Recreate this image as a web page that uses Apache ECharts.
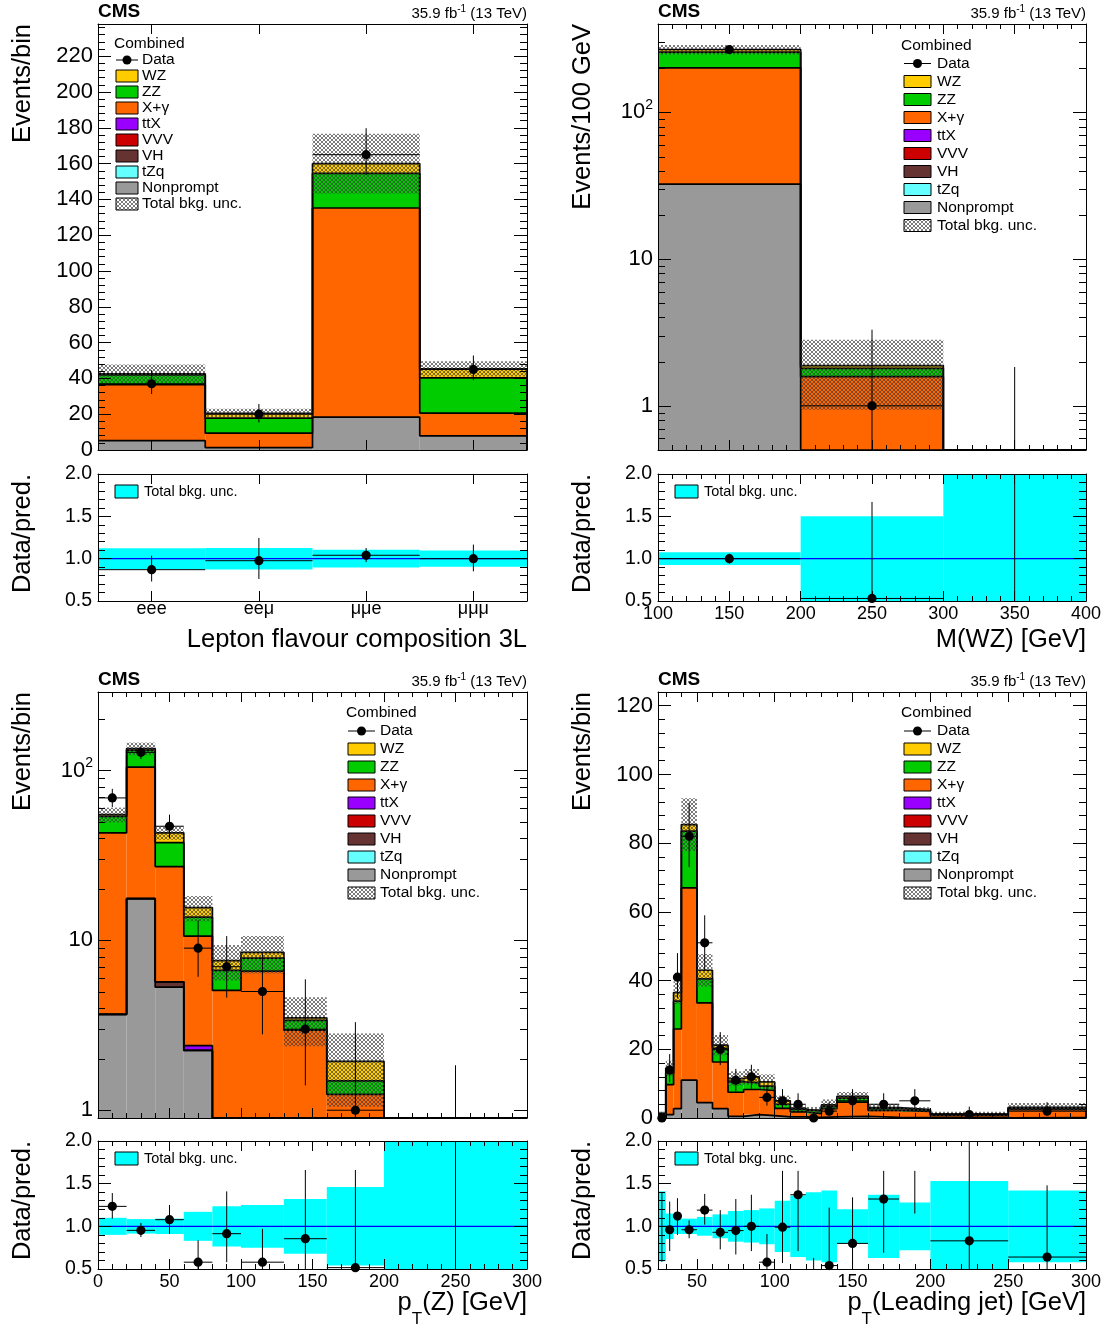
<!DOCTYPE html>
<html>
<head>
<meta charset="utf-8">
<script src="https://cdn.jsdelivr.net/npm/echarts@6/dist/echarts.min.js"></script>
<style>
html, body { margin: 0; padding: 0; background: #fff; }
#main { width: 1107px; height: 1329px; }
</style>
</head>
<body>
<div id="main"></div>
<script>
// ---------------- data ----------------
// Lepton flavour composition
var flavLabels = ['eee', 'eeμ', 'μμe', 'μμμ'];
var flavEdges = [0, 1, 2, 3, 4];
var flavNonprompt = [5.2, 1.3, 18.4, 7.9];
var flavXgamma = [31.3, 8.1, 116.8, 12.7];
var flavZZ = [5.5, 8.4, 19.3, 19.7];
var flavWZ = [0.5, 2.7, 5.5, 5.0];
var flavData = [37, 20, 165, 45];
var flavDataLo = [31.3, 15.4, 153.6, 39];
var flavDataHi = [44.6, 25.7, 179.8, 52.8];
var flavUnc = [0.124, 0.127, 0.104, 0.095];
var flavRatio = [0.87, 0.976, 1.04, 1.0];
var flavRatioLo = [0.73, 0.76, 0.96, 0.85];
var flavRatioHi = [1.035, 1.245, 1.126, 1.166];

// M(WZ)
var mwzEdges = [100, 200, 300, 400];
var mwzNonprompt = [32.4, 0, 0];
var mwzXgamma = [168.6, 1.58, 0];
var mwzZZ = [56, 0.22, 0];
var mwzWZ = [11, 0.08, 0];
var mwzData = [268, 1, 0];
var mwzDataLo = [252, 0.17, 0];
var mwzDataHi = [285, 3.3, 1.84];
var mwzUnc = [0.075, 0.5, 3];
var mwzRatio = [1.0, 0.53, null];
var mwzRatioLo = [0.94, 0.09, 0];
var mwzRatioHi = [1.06, 1.67, 10];

// pT(Z)
var ptzEdges = [0, 20, 40, 60, 80, 100, 130, 160, 200, 300];
var ptzNonprompt = [3.67, 17.6, 5.3, 2.25, 0, 0, 0, 0, 0];
var ptzVH = [0, 0, 0.4, 0, 0, 0, 0, 0, 0];
var ptzTtX = [0, 0, 0, 0.15, 0, 0, 0, 0, 0];
var ptzXgamma = [39.3, 87, 21.5, 8.2, 5.08, 6.6, 2.96, 1.24, 0];
var ptzZZ = [10.7, 27.4, 10.4, 3.1, 1.58, 1.27, 0.42, 0.25, 0];
var ptzWZ = [1.3, 2.6, 5.4, 1.9, 0.94, 0.63, 0.12, 0.45, 0];
var ptzData = [69, 128, 47, 9, 7, 5, 3, 1, 0];
var ptzDataLo = [61, 117, 40, 6.1, 4.6, 2.8, 1.4, 0.17, 0];
var ptzDataHi = [78, 140, 55, 13.1, 10.6, 8.4, 5.9, 3.3, 1.84];
var ptzUnc = [0.10, 0.085, 0.09, 0.17, 0.235, 0.25, 0.32, 0.46, 3];
var ptzRatio = [1.234, 0.953, 1.078, 0.58, 0.914, 0.58, 0.855, 0.516, null];
var ptzRatioLo = [1.09, 0.875, 0.91, 0.3, 0.58, 0.3, 0.3, 0.3, 0];
var ptzRatioHi = [1.39, 1.04, 1.25, 0.836, 1.41, 0.97, 1.66, 1.66, 10];

// pT(leading jet)
var jetEdges = [25, 30, 35, 40, 50, 60, 70, 80, 90, 100, 110, 120, 130, 140, 160, 180, 200, 250, 300];
var jetNonprompt = [0.3, 1.0, 2.7, 11, 4.5, 2.7, 0.5, 1.0, 0.7, 0.3, 0.3, 0.2, 0.3, 0.5, 0.2, 0.1, 0.05, 0.1];
var jetXgamma = [0.7, 8.7, 23.2, 56, 29, 13.6, 7.0, 7.3, 7.3, 2.5, 1.5, 1.1, 2.4, 4.1, 2.0, 1.8, 0.65, 2.4];
var jetZZ = [0.3, 3.3, 8.1, 16.5, 7, 4, 3.0, 2.0, 1.3, 1.2, 0.7, 0.7, 0.7, 1.2, 0.5, 0.4, 0.3, 0.4];
var jetWZ = [0, 1.5, 2.5, 1.9, 2.5, 0.9, 1.0, 1.7, 1.2, 1.0, 0.4, 0.3, 0.4, 0.5, 0.3, 0.15, 0.2, 0.2];
var jetData = [0, 14, 41, 82, 51, 20, 11, 12, 6, 5, 4, 0, 2, 5, 4, 5, 1, 2];
var jetDataLo = [0, 10.4, 35, 73, 43, 15.4, 7.7, 8.5, 3.6, 2.8, 2.1, 0, 0.7, 2.8, 2.1, 2.8, 0.17, 0.7];
var jetDataHi = [1.84, 18.6, 48, 91.7, 59, 25, 14.3, 15.5, 9.6, 8.4, 7.2, 1.84, 4.6, 8.4, 7.2, 8.4, 3.3, 4.6];
var jetUnc = [0.41, 0.15, 0.09, 0.09, 0.11, 0.14, 0.18, 0.19, 0.21, 0.3, 0.36, 0.4, 0.42, 0.2, 0.37, 0.28, 0.53, 0.42];
var jetRatio = [null, 0.96, 1.12, 0.96, 1.19, 0.93, 0.95, 1.0, 0.58, 0.99, 1.37, null, 0.54, 0.80, 1.32, null, 0.83, 0.64];
var jetRatioLo = [0.585, 0.71, 0.9, 0.86, 1.02, 0.73, 0.67, 0.71, 0.3, 0.57, 0.71, 0, 0.3, 0.3, 0.69, 1.15, 0.3, 0.3];
var jetRatioHi = [1.40, 1.29, 1.33, 1.07, 1.38, 1.19, 1.32, 1.37, 0.91, 1.65, 1.65, 0.63, 1.22, 1.34, 1.65, 1.65, 2.5, 1.48];

// legend entries (top to bottom)
var procNames = ['WZ', 'ZZ', 'X+γ', 'ttX', 'VVV', 'VH', 'tZq', 'Nonprompt'];
var procColors = ['#ffcc00', '#00cc00', '#ff6600', '#9900ff', '#cc0000', '#663333', '#66ffff', '#999999'];
var C = {};
procNames.forEach(function (n, i) { C[n] = procColors[i]; });

// ---------------- helpers ----------------
var FONT = '"Liberation Sans", Arial, Helvetica, sans-serif';
var grids = [], xAxes = [], yAxes = [], series = [], graphics = [];

var hatch = document.createElement('canvas');
hatch.width = 4; hatch.height = 4;
var hc = hatch.getContext('2d');
hc.strokeStyle = 'rgba(60,60,60,0.85)';
hc.lineWidth = 0.8;
hc.beginPath();
hc.moveTo(0, 0); hc.lineTo(4, 4);
hc.moveTo(4, 0); hc.lineTo(0, 4);
hc.stroke();
var hatchFill = { image: hatch, repeat: 'repeat' };

function ticksFrom(a, b, step, skip) {
    var out = [];
    for (var i = 0; ; i++) {
        var v = +(a + i * step).toFixed(6);
        if (v > b + 1e-9) break;
        if (!skip || Math.abs(v / skip - Math.round(v / skip)) > 1e-6) out.push(v);
    }
    return out;
}

function logMinor(lo, hi) {
    var out = [];
    [0.1, 1, 10, 100].forEach(function (d) {
        for (var k = 2; k <= 9; k++) {
            var v = +(k * d).toFixed(6);
            if (v > lo && v < hi) out.push(v);
        }
    });
    return out;
}

function logLabel(v) {
    var l = Math.log10(v), e = Math.round(l);
    if (Math.abs(l - e) > 1e-6) return '';
    if (e === 0) return '1';
    if (e === 1) return '10';
    return '10{sup|' + e + '}';
}

function mkAxis(list, o) {
    var a = {
        type: o.type || 'value', gridIndex: o.grid, min: o.min, max: o.max, position: o.pos, z: 10,
        axisLine: { show: !!o.line, onZero: false, lineStyle: { color: '#000', width: 1 } },
        axisTick: { show: true, inside: true, length: o.len, lineStyle: { color: '#000', width: 1 } },
        minorTick: { show: false },
        splitLine: { show: false },
        axisLabel: { show: false }
    };
    if (o.ticks) a.axisTick.customValues = o.ticks;
    if (o.label) {
        a.axisLabel = Object.assign({ show: true, color: '#000', fontFamily: FONT,
            showMinLabel: true, showMaxLabel: true }, o.label);
        if (o.ticks) a.axisLabel.customValues = o.ticks;
    }
    list.push(a);
    return list.length - 1;
}

function frameX(g, c, withLabels) {
    var base = { grid: g, min: c.xmin, max: c.xmax };
    var idx = mkAxis(xAxes, Object.assign({}, base, { pos: 'bottom', line: true, ticks: c.xMajor, len: 10,
        label: withLabels ? c.xLabel : null }));
    mkAxis(xAxes, Object.assign({}, base, { pos: 'top', line: true, ticks: c.xMajor, len: 10 }));
    if (c.xMinor.length) {
        mkAxis(xAxes, Object.assign({}, base, { pos: 'bottom', ticks: c.xMinor, len: 5 }));
        mkAxis(xAxes, Object.assign({}, base, { pos: 'top', ticks: c.xMinor, len: 5 }));
    }
    return idx;
}

function frameY(g, y) {
    var base = { grid: g, min: y.min, max: y.max, type: y.type };
    var idx = mkAxis(yAxes, Object.assign({}, base, { pos: 'left', line: true, ticks: y.major, len: 13, label: y.label }));
    mkAxis(yAxes, Object.assign({}, base, { pos: 'right', line: true, ticks: y.major, len: 13 }));
    if (y.type !== 'log') {
        mkAxis(yAxes, Object.assign({}, base, { pos: 'left', ticks: y.minor, len: 7 }));
        mkAxis(yAxes, Object.assign({}, base, { pos: 'right', ticks: y.minor, len: 7 }));
    }
    return idx;
}

function clampFn(lo, hi) {
    return function (v) { return Math.min(Math.max(v, lo), hi); };
}

function rectRender(fill, clampY) {
    return function (params, api) {
        var p0 = api.coord([api.value(0), clampY(api.value(3))]);
        var p1 = api.coord([api.value(1), clampY(api.value(2))]);
        return { type: 'rect', shape: { x: p0[0], y: p0[1], width: p1[0] - p0[0], height: p1[1] - p0[1] },
            style: { fill: fill } };
    };
}

function pointRender(ylo, yhi, r) {
    var clampY = clampFn(ylo, yhi);
    return function (params, api) {
        var xc = api.value(0), v = api.value(1), lo = api.value(2), hi = api.value(3);
        var x0 = api.value(4), x1 = api.value(5);
        var kids = [];
        var a = api.coord([xc, clampY(lo)]), b = api.coord([xc, clampY(hi)]);
        kids.push({ type: 'line', shape: { x1: a[0], y1: a[1], x2: b[0], y2: b[1] },
            style: { stroke: '#000', lineWidth: 1 } });
        if (v >= ylo && v <= yhi) {
            var l = api.coord([x0, v]), rr = api.coord([x1, v]), c = api.coord([xc, v]);
            kids.push({ type: 'line', shape: { x1: l[0], y1: l[1], x2: rr[0], y2: rr[1] },
                style: { stroke: '#000', lineWidth: 1 } });
            kids.push({ type: 'circle', shape: { cx: c[0], cy: c[1], r: r }, style: { fill: '#000' } });
        }
        return { type: 'group', children: kids };
    };
}

function dataRows(edges, vals, lo, hi) {
    return vals.map(function (v, i) {
        return [(edges[i] + edges[i + 1]) / 2, v == null ? -1 : v, lo[i], hi[i], edges[i], edges[i + 1]];
    });
}

var ratioY = {
    type: 'value', min: 0.5, max: 2,
    major: ticksFrom(0.5, 2, 0.5), minor: ticksFrom(0.5, 2, 0.1, 0.5),
    label: { fontSize: 19.5, margin: 6, formatter: function (v) { return v.toFixed(1); } }
};

function buildPanel(c) {
    var gm = grids.length;
    grids.push({ left: c.main[0], top: c.main[1], width: c.main[2], height: c.main[3] });
    var gr = grids.length;
    grids.push({ left: c.rgrid[0], top: c.rgrid[1], width: c.rgrid[2], height: c.rgrid[3] });
    var xm = frameX(gm, c, false), ym = frameY(gm, c.y);
    var xr = frameX(gr, c, true), yr = frameY(gr, ratioY);
    var ylo = c.y.min, yhi = c.y.max, clampY = clampFn(ylo, yhi);
    var nb = c.edges.length - 1;
    var cum = [];
    for (var i = 0; i < nb; i++) cum.push(0);

    // stacked backgrounds, bottom to top
    c.comps.forEach(function (comp) {
        var rows = [];
        comp.vals.forEach(function (v, i) {
            if (v > 0) rows.push([c.edges[i], c.edges[i + 1], cum[i], cum[i] + v]);
            cum[i] += v;
        });
        series.push({ type: 'custom', xAxisIndex: xm, yAxisIndex: ym, z: 2, silent: true,
            encode: { x: 0, y: 3 }, data: rows, renderItem: rectRender(comp.color, clampY) });
        var pts = cum.map(function (t, i) { return [c.edges[i], clampY(t)]; });
        pts.push([c.edges[nb], clampY(cum[nb - 1])]);
        pts.push([c.edges[nb], ylo]);
        series.push({ type: 'line', step: 'end', xAxisIndex: xm, yAxisIndex: ym, z: 3, silent: true,
            symbol: 'none', data: pts, lineStyle: { color: '#000', width: 1.7 } });
    });

    // total background uncertainty (hatched)
    var hrows = [];
    cum.forEach(function (t, i) {
        if (t > 0) hrows.push([c.edges[i], c.edges[i + 1], t * (1 - c.unc[i]), t * (1 + c.unc[i])]);
    });
    series.push({ type: 'custom', xAxisIndex: xm, yAxisIndex: ym, z: 4, silent: true,
        encode: { x: 0, y: 3 }, data: hrows, renderItem: rectRender(hatchFill, clampY) });

    // data
    series.push({ type: 'custom', xAxisIndex: xm, yAxisIndex: ym, z: 6, silent: true,
        encode: { x: 0, y: 3 }, data: dataRows(c.edges, c.data, c.dataLo, c.dataHi),
        renderItem: pointRender(ylo, yhi, 4.6) });

    // log minor ticks
    if (c.y.type === 'log') {
        series.push({ type: 'custom', xAxisIndex: xm, yAxisIndex: ym, z: 10, silent: true,
            encode: { x: 0, y: 1 },
            data: logMinor(ylo, yhi).map(function (v) { return [c.xmin, v]; }),
            renderItem: function (params, api) {
                var cs = params.coordSys, p = api.coord([api.value(0), api.value(1)]);
                var y = Math.round(p[1]) + 0.5;
                return { type: 'group', children: [
                    { type: 'line', shape: { x1: cs.x, y1: y, x2: cs.x + 7, y2: y }, style: { stroke: '#000', lineWidth: 1 } },
                    { type: 'line', shape: { x1: cs.x + cs.width - 7, y1: y, x2: cs.x + cs.width, y2: y }, style: { stroke: '#000', lineWidth: 1 } }
                ] };
            } });
    }

    // ratio band, unity line, ratio points
    var clampR = clampFn(0.5, 2);
    series.push({ type: 'custom', xAxisIndex: xr, yAxisIndex: yr, z: 2, silent: true,
        encode: { x: 0, y: 3 },
        data: c.unc.map(function (u, i) { return [c.edges[i], c.edges[i + 1], 1 - u, 1 + u]; }),
        renderItem: rectRender('#00ffff', clampR) });
    series.push({ type: 'line', xAxisIndex: xr, yAxisIndex: yr, z: 5, silent: true, symbol: 'none',
        data: [[c.xmin, 1], [c.xmax, 1]], lineStyle: { color: '#0000ff', width: 1.3 } });
    series.push({ type: 'custom', xAxisIndex: xr, yAxisIndex: yr, z: 6, silent: true,
        encode: { x: 0, y: 3 }, data: dataRows(c.edges, c.ratio, c.ratioLo, c.ratioHi),
        renderItem: pointRender(0.5, 2, 4.6) });

    // texts
    var mx = c.main[0], mr = c.main[0] + c.main[2], mt = c.main[1];
    var ax = mx - 75;
    graphics.push({ type: 'text', x: mx, y: mt - 12, style: { text: 'CMS', fontSize: 19, fontWeight: 'bold',
        fontFamily: FONT, fill: '#000', align: 'left', verticalAlign: 'middle' } });
    graphics.push({ type: 'text', x: mr, y: mt - 10, style: { text: '35.9 fb{sup|-1} (13 TeV)', fontSize: 15,
        fontFamily: FONT, fill: '#000', align: 'right', verticalAlign: 'middle',
        rich: { sup: { fontSize: 10, fontFamily: FONT, fill: '#000', padding: [0, 0, 10, 0] } } } });
    graphics.push({ type: 'text', x: ax, y: mt, rotation: Math.PI / 2, style: { text: c.yTitle, fontSize: 25.5,
        fontFamily: FONT, fill: '#000', align: 'right', verticalAlign: 'middle' } });
    graphics.push({ type: 'text', x: ax, y: c.rgrid[1], rotation: Math.PI / 2, style: { text: 'Data/pred.',
        fontSize: 25.5, fontFamily: FONT, fill: '#000', align: 'right', verticalAlign: 'middle' } });
    graphics.push({ type: 'text', x: mr, y: c.rgrid[1] + c.rgrid[3] + c.xTitleDy, style: { text: c.xTitle,
        fontSize: 25.5, fontFamily: FONT, fill: '#000', align: 'right', verticalAlign: 'middle',
        rich: { sub: { fontSize: 17, fontFamily: FONT, fill: '#000', padding: [32, 0, 0, 0] } } } });

    // ratio legend
    var rx = mx + 17, ry = c.rgrid[1] + 11;
    graphics.push({ type: 'rect', shape: { x: rx, y: ry, width: 23, height: 13 },
        style: { fill: '#00ffff', stroke: '#000', lineWidth: 1 } });
    graphics.push({ type: 'text', x: rx + 29, y: ry + 7, style: { text: 'Total bkg. unc.', fontSize: 14.5,
        fontFamily: FONT, fill: '#000', align: 'left', verticalAlign: 'middle' } });

    // main legend
    var L = c.legend;
    graphics.push({ type: 'text', x: L.x, y: L.y, style: { text: 'Combined', fontSize: 15.5, fontFamily: FONT,
        fill: '#000', align: 'left', verticalAlign: 'middle' } });
    var rowY = L.y + L.dy;
    graphics.push({ type: 'line', shape: { x1: L.bx, y1: rowY, x2: L.bx + L.bw, y2: rowY }, style: { stroke: '#000', lineWidth: 1 } });
    graphics.push({ type: 'circle', shape: { cx: L.bx + L.bw / 2, cy: rowY, r: 4.5 }, style: { fill: '#000' } });
    graphics.push({ type: 'text', x: L.tx, y: rowY, style: { text: 'Data', fontSize: 15.5, fontFamily: FONT,
        fill: '#000', align: 'left', verticalAlign: 'middle' } });
    var names = procNames.concat(['Total bkg. unc.']);
    names.forEach(function (n, k) {
        var y = L.y + L.dy * (k + 2);
        graphics.push({ type: 'rect', shape: { x: L.bx, y: y - L.bh / 2, width: L.bw, height: L.bh },
            style: { fill: k < procNames.length ? procColors[k] : hatchFill, stroke: '#000', lineWidth: 1 } });
        graphics.push({ type: 'text', x: L.tx, y: y, style: { text: n, fontSize: 15.5, fontFamily: FONT,
            fill: '#000', align: 'left', verticalAlign: 'middle' } });
    });
}

var ratioXLabel = { fontSize: 18, margin: 4 };

buildPanel({
    main: [98, 24, 429, 426], rgrid: [98, 474, 429, 127],
    edges: flavEdges, xmin: 0, xmax: 4, xMajor: [0.5, 1.5, 2.5, 3.5], xMinor: [],
    xLabel: { fontSize: 18, margin: -1, formatter: function (v) { return flavLabels[Math.round(v - 0.5)]; } },
    y: { type: 'value', min: 0, max: 238, major: ticksFrom(0, 238, 20), minor: ticksFrom(0, 238, 4, 20),
        label: { fontSize: 22, margin: 5 } },
    comps: [
        { color: C['Nonprompt'], vals: flavNonprompt },
        { color: C['X+γ'], vals: flavXgamma },
        { color: C['ZZ'], vals: flavZZ },
        { color: C['WZ'], vals: flavWZ }
    ],
    unc: flavUnc, data: flavData, dataLo: flavDataLo, dataHi: flavDataHi,
    ratio: flavRatio, ratioLo: flavRatioLo, ratioHi: flavRatioHi,
    yTitle: 'Events/bin', xTitle: 'Lepton flavour composition 3L', xTitleDy: 39,
    legend: { x: 114, y: 44, dy: 16, bx: 116, bw: 22, bh: 12, tx: 142 }
});

buildPanel({
    main: [658, 24, 428, 426], rgrid: [658, 474, 428, 127],
    edges: mwzEdges, xmin: 100, xmax: 400, xMajor: ticksFrom(100, 400, 50), xMinor: ticksFrom(100, 400, 10, 50),
    xLabel: ratioXLabel,
    y: { type: 'log', min: 0.5, max: 400,
        label: { fontSize: 22, margin: 5, formatter: logLabel,
            rich: { sup: { fontSize: 14, fontFamily: FONT, color: '#000', padding: [0, 0, 14, 0] } } } },
    comps: [
        { color: C['Nonprompt'], vals: mwzNonprompt },
        { color: C['X+γ'], vals: mwzXgamma },
        { color: C['ZZ'], vals: mwzZZ },
        { color: C['WZ'], vals: mwzWZ }
    ],
    unc: mwzUnc, data: mwzData, dataLo: mwzDataLo, dataHi: mwzDataHi,
    ratio: mwzRatio, ratioLo: mwzRatioLo, ratioHi: mwzRatioHi,
    yTitle: 'Events/100 GeV', xTitle: 'M(WZ) [GeV]', xTitleDy: 39,
    legend: { x: 901, y: 45.5, dy: 18, bx: 904, bw: 27, bh: 12, tx: 937 }
});

buildPanel({
    main: [98, 692, 429, 426], rgrid: [98, 1141, 429, 128],
    edges: ptzEdges, xmin: 0, xmax: 300, xMajor: ticksFrom(0, 300, 50), xMinor: ticksFrom(0, 300, 10, 50),
    xLabel: ratioXLabel,
    y: { type: 'log', min: 0.9, max: 290,
        label: { fontSize: 22, margin: 5, formatter: logLabel,
            rich: { sup: { fontSize: 14, fontFamily: FONT, color: '#000', padding: [0, 0, 14, 0] } } } },
    comps: [
        { color: C['Nonprompt'], vals: ptzNonprompt },
        { color: C['VH'], vals: ptzVH },
        { color: C['ttX'], vals: ptzTtX },
        { color: C['X+γ'], vals: ptzXgamma },
        { color: C['ZZ'], vals: ptzZZ },
        { color: C['WZ'], vals: ptzWZ }
    ],
    unc: ptzUnc, data: ptzData, dataLo: ptzDataLo, dataHi: ptzDataHi,
    ratio: ptzRatio, ratioLo: ptzRatioLo, ratioHi: ptzRatioHi,
    yTitle: 'Events/bin', xTitle: 'p{sub|T}(Z) [GeV]', xTitleDy: 34,
    legend: { x: 346, y: 713, dy: 18, bx: 348, bw: 27, bh: 12, tx: 380 }
});

buildPanel({
    main: [658, 692, 428, 426], rgrid: [658, 1141, 428, 128],
    edges: jetEdges, xmin: 25, xmax: 300, xMajor: ticksFrom(50, 300, 50), xMinor: ticksFrom(30, 300, 10, 50),
    xLabel: ratioXLabel,
    y: { type: 'value', min: 0, max: 124, major: ticksFrom(0, 124, 20), minor: ticksFrom(0, 124, 4, 20),
        label: { fontSize: 22, margin: 5 } },
    comps: [
        { color: C['Nonprompt'], vals: jetNonprompt },
        { color: C['X+γ'], vals: jetXgamma },
        { color: C['ZZ'], vals: jetZZ },
        { color: C['WZ'], vals: jetWZ }
    ],
    unc: jetUnc, data: jetData, dataLo: jetDataLo, dataHi: jetDataHi,
    ratio: jetRatio, ratioLo: jetRatioLo, ratioHi: jetRatioHi,
    yTitle: 'Events/bin', xTitle: 'p{sub|T}(Leading jet) [GeV]', xTitleDy: 34,
    legend: { x: 901, y: 713, dy: 18, bx: 904, bw: 27, bh: 12, tx: 937 }
});

var chart = echarts.init(document.getElementById('main'));
chart.setOption({
    animation: false,
    backgroundColor: '#fff',
    textStyle: { fontFamily: FONT },
    grid: grids,
    xAxis: xAxes,
    yAxis: yAxes,
    series: series,
    graphic: { elements: graphics }
});
</script>
</body>
</html>
